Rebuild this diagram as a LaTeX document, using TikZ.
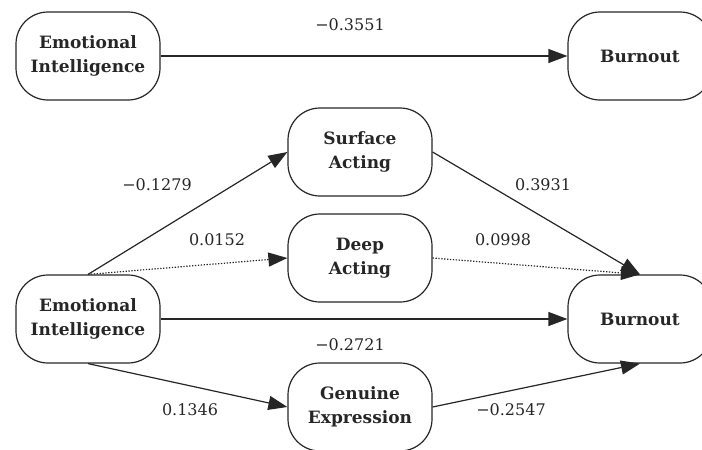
\documentclass[tikz,border=0pt]{standalone}
\usepackage{fontspec}
\setmainfont{DejaVu Serif}
\usetikzlibrary{arrows.meta}

\begin{document}
\begin{tikzpicture}[x=1pt,y=-1pt,
  box/.style={draw=black!85, line width=1.2pt, rounded corners=32pt,
    minimum width=144pt, minimum height=88pt, align=center,
    text=black!85, font=\fontsize{17}{24}\selectfont\bfseries},
  path/.style={draw=black!85, line width=1.2pt, -{Triangle[length=19pt,width=14pt]}},
  weak/.style={path, dash pattern=on 1.3pt off 1.6pt},
  coef/.style={text=black!85, font=\fontsize{16}{20}\selectfont}]
\useasboundingbox (0,0) rectangle (702,450);

% direct effect
\node[box] (ei1) at (88,56) {Emotional\\Intelligence};
\node[box] (bo1) at (640,56) {Burnout};

\draw[path] (ei1) -- (bo1);
\node[coef] (c1) at (350,25) {−0.3551};

% mediated model
\node[box] (ei2) at (88,319) {Emotional\\Intelligence};
\node[box] (sa) at (360,152) {Surface\\Acting};
\node[box] (da) at (360,258) {Deep\\Acting};
\node[box] (ge) at (360,407) {Genuine\\Expression};
\node[box] (bo2) at (640,319) {Burnout};

\draw[path] (ei2.north) -- (sa.west);
\draw[weak] (ei2.north) -- (da.west);
\draw[path] (ei2.east) -- (bo2.west);
\draw[path] (ei2.south) -- (ge.west);
\draw[path] (sa.east) -- (bo2.north);
\draw[weak] (da.east) -- (bo2.north);
\draw[path] (ge.east) -- (bo2.south);

\node[coef] (c2) at (157,185) {−0.1279};
\node[coef] (c3) at (217,240) {0.0152};
\node[coef] (c4) at (350,345) {−0.2721};
\node[coef] (c5) at (190,410) {0.1346};
\node[coef] (c6) at (543,185) {0.3931};
\node[coef] (c7) at (503,240) {0.0998};
\node[coef] (c8) at (511,410) {−0.2547};

\end{tikzpicture}
\end{document}
